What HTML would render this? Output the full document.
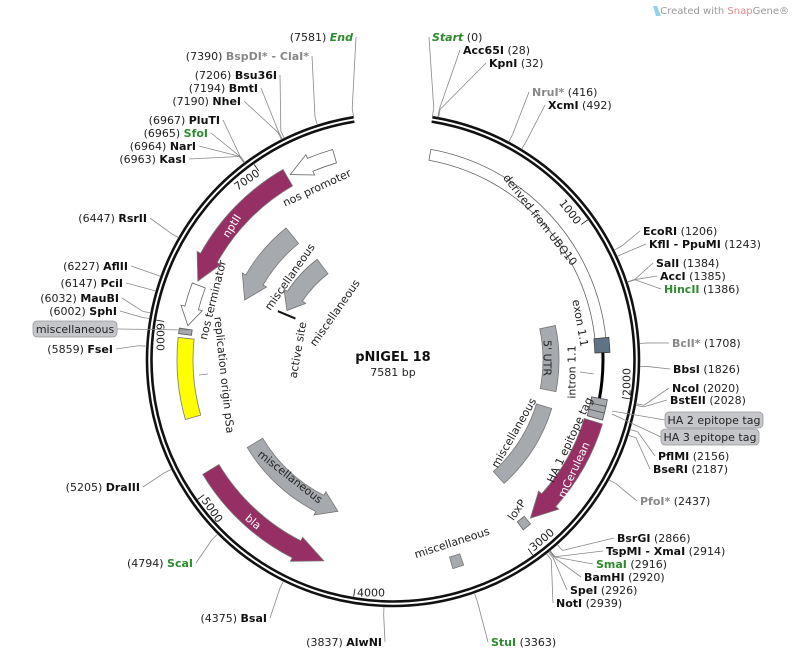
<!DOCTYPE html>
<html><head><meta charset="utf-8">
<style>
html,body{margin:0;padding:0;background:#fff;}
svg{display:block;font-family:"DejaVu Sans","Liberation Sans",sans-serif;}
</style></head>
<body>
<svg id="s" width="796" height="657" viewBox="0 0 796 657" xmlns="http://www.w3.org/2000/svg">
<rect width="796" height="657" fill="#fff"/>
<g id="g"></g>
<text x="789" y="14" font-size="10" fill="#999" text-anchor="end">Created with <tspan fill="#e08a8a">Snap</tspan>Gene®</text>
<path d="M653 6 L657 6 L661 16 L656 16 Z" fill="#8fd3ea"/>
</svg>
<script>
const NS="http://www.w3.org/2000/svg";const G=document.getElementById("g");
const C=[393,360];
function P(r,a){a=a*Math.PI/180;return [C[0]+r*Math.sin(a),C[1]-r*Math.cos(a)];}
function f(p){return p[0].toFixed(2)+" "+p[1].toFixed(2);}
function el(t,at,txt){const e=document.createElementNS(NS,t);for(const k in at)e.setAttribute(k,at[k]);if(txt!==undefined)e.textContent=txt;G.appendChild(e);return e;}
function arc(r,a1,a2){const sw=a2>a1?1:0,lg=Math.abs(a2-a1)>180?1:0;return "A"+r+" "+r+" 0 "+lg+" "+sw+" "+f(P(r,a2));}
function band(r1,r2,a1,a2,fill,stroke){el("path",{d:"M"+f(P(r2,a1))+arc(r2,a1,a2)+"L"+f(P(r1,a2))+arc(r1,a2,a1)+"Z",fill:fill,stroke:stroke||"#555","stroke-width":0.8});}
function arrow(r1,r2,a1,tip,h,fill,stroke){const d=tip>a1?1:-1;const a2=tip-d*h;const m=(r1+r2)/2;
el("path",{d:"M"+f(P(r2,a1))+arc(r2,a1,a2)+"L"+f(P(r2+4,a2))+"L"+f(P(m,tip))+"L"+f(P(r1-4,a2))+"L"+f(P(r1,a2))+arc(r1,a2,a1)+"Z",fill:fill,stroke:stroke||"#555","stroke-width":0.8});}
function line(a,b,c){return el("line",{x1:a[0],y1:a[1],x2:b[0],y2:b[1],stroke:c||"#888","stroke-width":0.8});}
function rt(x,y,rot,txt,o){o=o||{};el("text",{x:x,y:y,transform:"rotate("+rot+" "+x+" "+y+")","text-anchor":"middle","dominant-baseline":"central","font-size":o.fs||11,fill:o.fill||"#222","font-weight":o.fw||"normal"},txt);}
const A0=9.2,A1=350.8;
el("path",{d:"M"+f(P(246,A0))+arc(246,A0,A1),fill:"none",stroke:"#111","stroke-width":2.6});
el("path",{d:"M"+f(P(241.5,A0))+arc(241.5,A0,A1),fill:"none",stroke:"#111","stroke-width":2.6});
function ang(p){return 9.2+p/7581*341.6;}
[[1000,570,212,52],[2000,627,382,-90],[3000,542,540,-40],[4000,371,593,0],[5000,212,510,55],[6000,160,337,90],[7000,247,180,-35]].forEach(t=>{const a=ang(t[0]);line(P(240,a),P(232,a),"#111");rt(t[1],t[2],t[3],String(t[0]),{fs:11});});
band(203,214,10.2,84,"#fff","#666");
band(202,217,84,88,"#5f7384","#444");
el("path",{d:"M"+f(P(210,88))+arc(210,88,100.5),fill:"none",stroke:"#000","stroke-width":3});
band(202,218,100.5,102.3,"#a6a9ad","#555");band(202,218,102.3,104.1,"#a6a9ad","#555");band(202,218,104.1,106,"#a6a9ad","#555");
arrow(200,219,107,139,7,"#962f63","#777");
band(204,214,140,142.5,"#a6a9ad","#666");
band(150,166,78,101,"#a6a9ad","#777");
band(150,166,107,138,"#a6a9ad","#777");
band(205,217,161,164,"#a6a9ad","#777");
arrow(203,222,239,199,8,"#962f63","#777");
arrow(152,170,239,200,7,"#a6a9ad","#777");
arrow(201,220,330,292,7,"#962f63","#777");
arrow(205,219,344,331,6,"#fff","#666");
arrow(201,215,291,279.5,5,"#fff","#666");
band(203,216,278.5,277,"#a6a9ad","#555");
band(200,216,276,254,"#ffff00","#777");
arrow(150,170,321,292,8,"#a6a9ad","#777");
arrow(108,126,323,295,8,"#a6a9ad","#777");
line(P(106,293),P(125,293),"#111").setAttribute("stroke-width",2);
rt(317,188,-25,"nos promoter");
rt(232,226,-58,"nptII",{fill:"#fff",fs:11});
rt(290,277,-55,"miscellaneous");
rt(335,313,-55,"miscellaneous");
rt(298,350,-80,"active site");
rt(213,300,-76,"nos terminator");
rt(224,375,84,"replication origin pSa");
line([199,375],[208,374]);
rt(540,220,52,"derived from UBQ10");
rt(580,323,80,"exon 1.1");
rt(572,372,-90,"intron 1.1");
line([580,372],[594,374]);
rt(547,358,90,"5' UTR");
rt(570,440,-65,"HA 1 epitope tag");
rt(574,470,-65,"mCerulean",{fill:"#fff"});
rt(514,433,-60,"miscellaneous");
rt(517,510,-55,"loxP");
rt(452,543,-18,"miscellaneous");
rt(253,522,40,"bla",{fill:"#fff"});
rt(290,477,38,"miscellaneous");
el("text",{x:393,y:361,"text-anchor":"middle","font-size":13,"font-weight":"bold",fill:"#111"},"pNIGEL 18");
el("text",{x:393,y:376,"text-anchor":"middle","font-size":11,fill:"#222"},"7581 bp");
const B="#111",GR="#2e8b2e",GY="#888";
function site(p,x,y,side,parts){const a=ang(p);const s=P(247,a);const s2=P(255,a);
 const ex=side=="L"?x+3:x-3;line(s,s2);line(s2,[ex,y]);
 const t=el("text",{x:x,y:y+4,"font-size":11,"text-anchor":side=="L"?"end":"start"});
 parts.forEach(q=>{const ts=document.createElementNS(NS,"tspan");ts.textContent=q[0];ts.setAttribute("fill",q[1]);if(q[2])ts.setAttribute("font-weight","bold");if(q[3])ts.setAttribute("font-style","italic");t.appendChild(ts);});}
const L=(n,nm,c)=>[["("+n+")  ","#222"],[nm,c||B,1]];
site(7581,353,37,"L",[["(7581)  ","#222"],["End",GR,1,1]]);
site(7390,309,56,"L",[["(7390)  ","#222"],["BspDI* - ClaI*",GY,1]]);
site(7206,277,75,"L",L(7206,"Bsu36I"));
site(7194,258,88,"L",L(7194,"BmtI"));
site(7190,241,101,"L",L(7190,"NheI"));
site(6967,220,120,"L",L(6967,"PluTI"));
site(6965,208,133,"L",L(6965,"SfoI",GR));
site(6964,196,146,"L",L(6964,"NarI"));
site(6963,186,159,"L",L(6963,"KasI"));
site(6447,147,218,"L",L(6447,"RsrII"));
site(6227,128,266,"L",L(6227,"AflII"));
site(6147,123,283,"L",L(6147,"PciI"));
site(6032,119,298,"L",L(6032,"MauBI"));
site(6002,117,311,"L",L(6002,"SphI"));
site(5859,113,349,"L",L(5859,"FseI"));
site(5205,140,487,"L",L(5205,"DraIII"));
site(4794,193,563,"L",L(4794,"ScaI",GR));
site(4375,267,618,"L",L(4375,"BsaI"));
site(3837,382,642,"L",L(3837,"AlwNI"));
const R=(nm,n,c)=>[[nm,c||B,1],["  ("+n+")","#222"]];
site(0,432,37,"R",[["Start",GR,1,1],["  (0)","#222"]]);
site(28,463,50,"R",R("Acc65I",28));
site(32,489,63,"R",R("KpnI",32));
site(416,532,92,"R",R("NruI*",416,GY));
site(492,548,105,"R",R("XcmI",492));
site(1206,643,231,"R",R("EcoRI",1206));
site(1243,649,244,"R",R("KflI - PpuMI",1243));
site(1384,656,263,"R",R("SalI",1384));
site(1385,660,276,"R",R("AccI",1385));
site(1386,664,289,"R",R("HincII",1386,GR));
site(1708,672,343,"R",R("BclI*",1708,GY));
site(1826,673,369,"R",R("BbsI",1826));
site(2020,672,388,"R",R("NcoI",2020));
site(2028,670,400,"R",R("BstEII",2028));
site(2156,658,456,"R",R("PflMI",2156));
site(2187,653,469,"R",R("BseRI",2187));
site(2437,640,501,"R",R("PfoI*",2437,GY));
site(2866,617,538,"R",R("BsrGI",2866));
site(2914,606,551,"R",R("TspMI - XmaI",2914));
site(2916,596,564,"R",R("SmaI",2916,GR));
site(2920,584,577,"R",R("BamHI",2920));
site(2926,570,590,"R",R("SpeI",2926));
site(2939,556,603,"R",R("NotI",2939));
site(3363,491,642,"R",R("StuI",3363,GR));
function box(x,y,w,txt,from,to){line(from,to||[x,y]);el("rect",{x:x,y:y-8,width:w,height:16,rx:4,fill:"#c4c6c9",stroke:"#999","stroke-width":0.8});el("text",{x:x+w/2,y:y+4,"text-anchor":"middle","font-size":11,fill:"#222"},txt);}
box(33,329,84,"miscellaneous",[188,330],[117,329]);
box(665,420,98,"HA 2 epitope tag",[612,411]);
box(661,437,98,"HA 3 epitope tag",[612,414]);
</script>
</body></html>
